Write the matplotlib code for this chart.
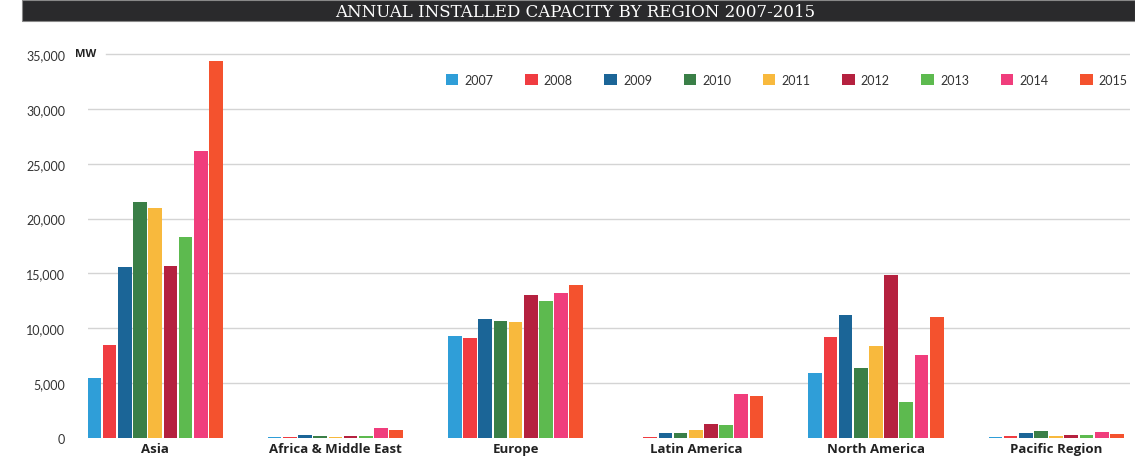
import matplotlib
matplotlib.use("Agg")
import matplotlib.pyplot as plt
from matplotlib.patches import Rectangle
import numpy as np

regions = ["Asia", "Africa & Middle East", "Europe", "Latin America",
           "North America", "Pacific Region"]
years = ["2007", "2008", "2009", "2010", "2011", "2012", "2013", "2014", "2015"]
colors = ["#2f9ed8", "#f03c41", "#1b6597", "#3a7f47", "#f8b93d",
          "#b5213f", "#5dba4f", "#f03d7c", "#f4522e"]

asia          = [5500, 8500, 15600, 21500, 21000, 15700, 18300, 26200, 34400]
africa_me     = [100, 120, 250, 150, 100, 150, 200, 900, 700]
europe        = [9300, 9100, 10850, 10650, 10600, 13000, 12500, 13200, 13900]
latin_america = [30, 120, 450, 450, 700, 1300, 1200, 4000, 3800]
north_america = [5900, 9200, 11200, 6400, 8400, 14900, 3300, 7600, 11000]
pacific       = [120, 150, 450, 600, 150, 300, 300, 550, 350]

data = np.array([asia, africa_me, europe, latin_america, north_america, pacific])
yticks = [0, 5000, 10000, 15000, 20000, 25000, 30000, 35000]

W, H = 1135, 460
fig = plt.figure(figsize=(W / 100, H / 100), dpi=100)
fig.patch.set_facecolor("white")

# title bar
fig.patches.append(Rectangle((22 / W, 1 - 22 / H), 1 - 22 / W, 21 / H,
                             transform=fig.transFigure, facecolor="#2a2a2c",
                             edgecolor="#888888", linewidth=0.8, zorder=0))
fig.text(575 / W, 1 - 12.5 / H, "ANNUAL INSTALLED CAPACITY BY REGION 2007-2015",
         ha="center", va="center", color="white", fontsize=12,
         family="DejaVu Serif")

left_px, right_px, top_px, base_px = 88, 1130, 50, 439
ax = fig.add_axes([left_px / W, (H - base_px) / H,
                   (right_px - left_px) / W, (base_px - top_px) / H])
ymax = 35000 * (base_px - top_px) / (base_px - 55)
ax.set_ylim(0, ymax)

n = len(years)
slot = 0.0843
x = np.arange(len(regions))
for i, (yr, c) in enumerate(zip(years, colors)):
    ax.bar(x + (i - (n - 1) / 2) * slot, data[:, i], width=slot * 0.9,
           color=c, label=yr, zorder=3, linewidth=0)

ax.set_xlim(-0.373, 5.41)
ax.set_xticks(x)
ax.set_xticklabels(regions, fontsize=9.5, fontweight="bold",
                   family="Open Sans", color="#222222")
ax.set_yticks(yticks)
ax.set_yticklabels([f"{v:,}" for v in yticks], fontsize=9, family="Lato",
                   color="#333333")
ax.tick_params(axis="both", length=0)
ax.tick_params(axis="y", pad=16.5)
ax.tick_params(axis="x", pad=3)

axw = right_px - left_px
for v in yticks[1:]:
    xmin = (106 - left_px) / axw if v == 35000 else 0
    ax.axhline(v, xmin=xmin, xmax=1, color="#d4d4d4", linewidth=1, zorder=1)

ax.text(-13 / axw, 35000, "MW", transform=ax.get_yaxis_transform(),
        ha="left", va="center", fontsize=8, fontweight="bold",
        family="Open Sans", color="#222222")

for s in ax.spines.values():
    s.set_visible(False)

leg = ax.legend(loc="center right",
                bbox_to_anchor=(1.0 + 9 / axw, (base_px - 81) / (base_px - top_px)),
                ncol=9, frameon=False, handlelength=1.0,
                handleheight=1.0, handletextpad=0.5, columnspacing=2.52,
                prop={"family": "Lato", "size": 9})
for t in leg.get_texts():
    t.set_color("#333333")

fig.savefig("out.png", dpi=100)
